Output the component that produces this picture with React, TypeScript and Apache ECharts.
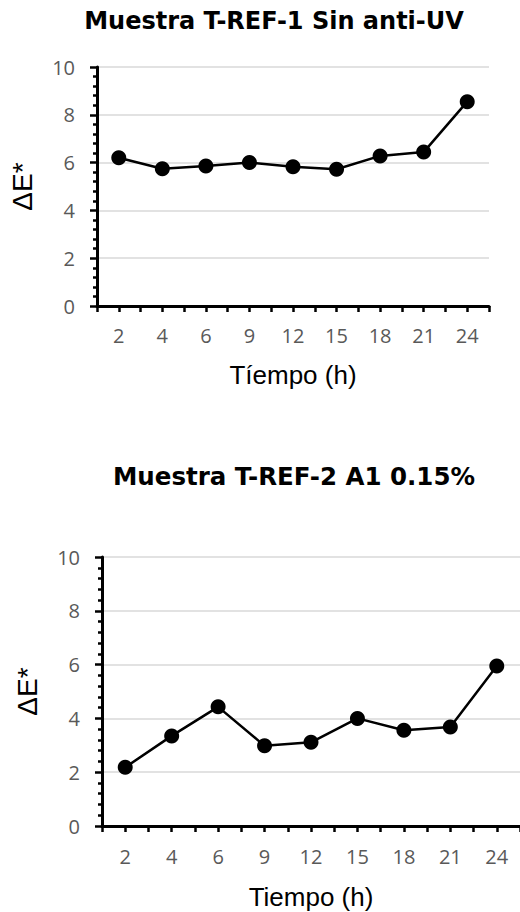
import React, { useEffect, useRef } from "react";
import * as echarts from "echarts";

const hours = ["2", "4", "6", "9", "12", "15", "18", "21", "24"];
const ref1Values = [6.2, 5.74, 5.86, 6.0, 5.83, 5.72, 6.28, 6.44, 8.55];
const ref2Values = [2.18, 3.35, 4.43, 2.98, 3.11, 4.0, 3.56, 3.68, 5.95];
const yTicks = { min: 0, max: 10, interval: 2 };
const titles = ["Muestra T-REF-1 Sin anti-UV", "Muestra T-REF-2 A1 0.15%"];
const xNames = ["Tíempo (h)", "Tiempo (h)"];
const yName = "ΔE*";

const LABEL_FONT = "'Open Sans', 'Noto Sans', sans-serif";
const NAME_FONT = "'Liberation Sans', Arial, sans-serif";
const TITLE_FONT = "'DejaVu Sans', Verdana, sans-serif";

export default function App() {
  const ref = useRef<HTMLDivElement>(null);
  useEffect(() => {
    document.body.style.margin = "0";
    const chart = echarts.init(ref.current!, undefined, { renderer: "svg" });
    const grids = [
      { left: 94, top: 67, width: 395, height: 239 },
      { left: 102, top: 557, width: 421, height: 269 },
    ];
    const xGaps = [56, 58];
    const labelMargins = [19, 20];
    const xAxes: any[] = [];
    const yAxes: any[] = [];
    grids.forEach((_, i) => {
      xAxes.push({
        type: "category",
        gridIndex: i,
        data: hours,
        boundaryGap: true,
        name: xNames[i],
        nameLocation: "middle",
        nameGap: xGaps[i],
        nameTextStyle: { fontFamily: NAME_FONT, fontSize: 26, color: "#000" },
        axisLine: { show: true, lineStyle: { color: "#000", width: 3 } },
        axisTick: { show: true, length: 6, lineStyle: { color: "#000", width: 2.5 } },
        axisLabel: {
          margin: labelMargins[i],
          fontFamily: LABEL_FONT,
          fontSize: 20,
          color: "#595959",
        },
        splitLine: { show: false },
        z: 3,
      });
      xAxes.push({
        type: "category",
        gridIndex: i,
        data: hours,
        boundaryGap: true,
        position: "bottom",
        axisLine: { show: false },
        axisTick: { show: true, alignWithLabel: true, length: 6, lineStyle: { color: "#000", width: 2.5 } },
        axisLabel: { show: false },
        splitLine: { show: false },
      });
      yAxes.push({
        type: "value",
        gridIndex: i,
        min: yTicks.min,
        max: yTicks.max,
        interval: yTicks.interval,
        name: yName,
        nameLocation: "middle",
        nameGap: 61,
        nameRotate: 90,
        nameTextStyle: { fontFamily: NAME_FONT, fontSize: 28, color: "#000" },
        axisLine: { show: true, lineStyle: { color: "#000", width: 3 } },
        axisTick: { show: true, length: 7, lineStyle: { color: "#000", width: 2.5 } },
        minorTick: { show: true, splitNumber: 5, length: 4, lineStyle: { color: "#000", width: 2.5 } },
        axisLabel: {
          margin: 22,
          fontFamily: LABEL_FONT,
          fontSize: 20,
          color: "#595959",
        },
        splitLine: { show: true, lineStyle: { color: "#d9d9d9", width: 1.5 } },
        minorSplitLine: { show: false },
      });
    });
    const seriesData = [ref1Values, ref2Values];
    chart.setOption({
      animation: false,
      backgroundColor: "#fff",
      title: [
        {
          text: titles[0],
          left: 269,
          top: 4,
          textAlign: "center",
          textStyle: { fontFamily: TITLE_FONT, fontWeight: "bold", fontSize: 24, color: "#000" },
        },
        {
          text: titles[1],
          left: 289,
          top: 459,
          textAlign: "center",
          textStyle: { fontFamily: TITLE_FONT, fontWeight: "bold", fontSize: 24.5, color: "#000" },
        },
      ],
      grid: grids,
      xAxis: xAxes,
      yAxis: yAxes,
      series: seriesData.map((d, i) => ({
        type: "line",
        xAxisIndex: i * 2,
        yAxisIndex: i,
        data: d,
        symbol: "circle",
        symbolSize: 15,
        lineStyle: { color: "#000", width: 2.5 },
        itemStyle: { color: "#000" },
        z: 5,
      })),
    });
    return () => chart.dispose();
  }, []);
  return (
    <div
      ref={ref}
      style={{ position: "absolute", left: 0, top: 0, width: 520, height: 912 }}
    />
  );
}
